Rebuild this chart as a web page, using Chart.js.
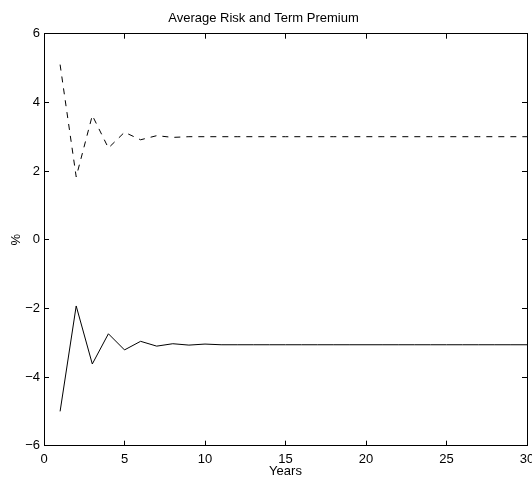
<!DOCTYPE html>
<html>
<head>
<meta charset="utf-8">
<script src="https://cdn.jsdelivr.net/npm/chart.js@4.4.1/dist/chart.umd.min.js"></script>
<style>
  html, body { margin: 0; padding: 0; background: #fff; overflow: hidden; }
  canvas { display: block; }
</style>
</head>
<body>
<canvas id="premiumChart" width="560" height="479"></canvas>
<script>
// Maturity in years and the two average premia (%)
const years = [1, 2, 3, 4, 5, 6, 7, 8, 9, 10, 11, 12, 13, 14, 15,
               16, 17, 18, 19, 20, 21, 22, 23, 24, 25, 26, 27, 28, 29, 30];
const termPremium = [5.10, 1.83, 3.62, 2.67, 3.13, 2.91, 3.03, 2.98, 3.00, 3.00,
                     3.00, 3.00, 3.00, 3.00, 3.00, 3.00, 3.00, 3.00, 3.00, 3.00,
                     3.00, 3.00, 3.00, 3.00, 3.00, 3.00, 3.00, 3.00, 3.00, 3.00];
const riskPremium = [-5.00, -1.93, -3.62, -2.74, -3.21, -2.96, -3.10, -3.03, -3.07, -3.04,
                     -3.06, -3.06, -3.06, -3.06, -3.06, -3.06, -3.06, -3.06, -3.06, -3.06,
                     -3.06, -3.06, -3.06, -3.06, -3.06, -3.06, -3.06, -3.06, -3.06, -3.06];
const xTicks = [0, 5, 10, 15, 20, 25, 30];
const yTicks = [-6, -4, -2, 0, 2, 4, 6];

const FONT = "'Liberation Sans', Arial, Helvetica, sans-serif";
Chart.defaults.font.family = FONT;
Chart.defaults.font.size = 13;
Chart.defaults.color = "#000";

const toPoints = (vals) => years.map((x, i) => ({ x: x, y: vals[i] }));
const minus = (v) => String(v).replace("-", "\u2212");

// inward tick marks, MATLAB style box
function boxAxis(position, ticks, opts) {
  return Object.assign({
    type: "linear",
    position: position,
    min: ticks[0],
    max: ticks[ticks.length - 1],
    afterBuildTicks: (s) => { s.ticks = ticks.map((v) => ({ value: v })); },
    grid: { drawOnChartArea: false, color: "#000", lineWidth: 1, tickLength: -5 },
    border: { display: true, color: "#000", width: 1 },
  }, opts);
}

const ctx = document.getElementById("premiumChart").getContext("2d");
const premiumChart = new Chart(ctx, {
  type: "line",
  data: {
    datasets: [
      {
        label: "Term premium",
        data: toPoints(termPremium),
        borderColor: "#000",
        borderWidth: 1,
        borderDash: [6, 6],
        pointRadius: 0,
        tension: 0,
        xAxisID: "x",
        yAxisID: "y",
      },
      {
        label: "Risk premium",
        data: toPoints(riskPremium),
        borderColor: "#000",
        borderWidth: 1,
        pointRadius: 0,
        tension: 0,
        xAxisID: "x",
        yAxisID: "y",
      },
    ],
  },
  options: {
    responsive: false,
    animation: false,
    layout: { padding: { left: 0, right: 33, top: 0, bottom: 0 } },
    plugins: {
      legend: { display: false },
      tooltip: { enabled: false },
      title: {
        display: true,
        text: "Average Risk and Term Premium",
        color: "#000",
        font: { size: 13, weight: "normal" },
        padding: { top: 10.7, bottom: 7.4 },
      },
    },
    scales: {
      x: boxAxis("bottom", xTicks, {
        ticks: { padding: 11, maxRotation: 0, callback: (v) => minus(v) },
        title: { display: true, text: "Years", color: "#000", font: { size: 13 }, padding: { top: 0, bottom: 0 } },
        afterFit: (s) => { s.height = 33.3; },
      }),
      y: boxAxis("left", yTicks, {
        ticks: { padding: 9, callback: (v) => minus(v) },
        title: { display: true, text: "%", color: "#000", font: { size: 13 }, padding: { top: 8.2, bottom: 0 } },
        afterFit: (s) => { s.width = 44; },
      }),
      xTop: boxAxis("top", xTicks, {
        ticks: { display: false },
        afterFit: (s) => { s.height = 0; },
      }),
      yRight: boxAxis("right", yTicks, {
        ticks: { display: false },
        afterFit: (s) => { s.width = 0; },
      }),
    },
  },
});
</script>
</body>
</html>
